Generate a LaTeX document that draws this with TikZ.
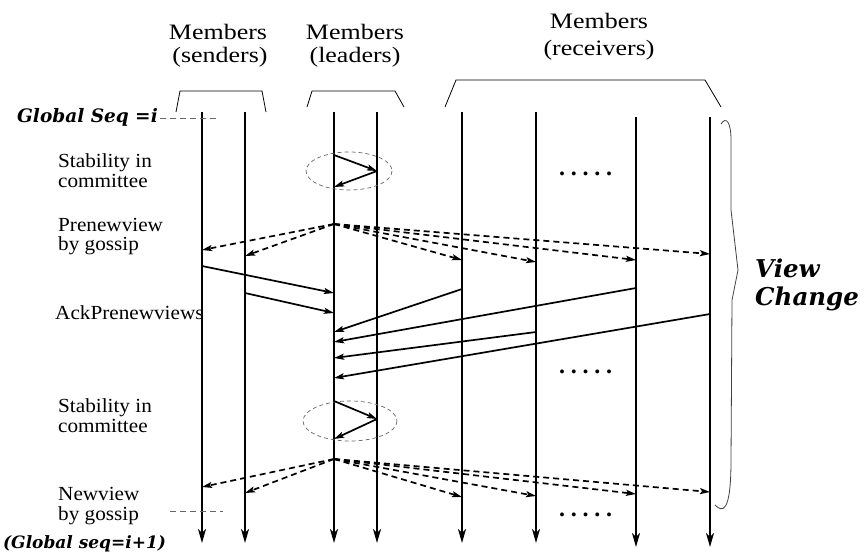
\documentclass[tikz,border=0pt]{standalone}
\usepackage{fontspec}
\usepackage{graphicx}
\setmainfont{Liberation Serif}
\newfontfamily\slab{DejaVu Serif}
\usetikzlibrary{arrows.meta}
\newcommand\hx[1]{\scalebox{1.18}[1]{#1}}
\newcommand\lx[1]{\scalebox{1.06}[1]{#1}}
\begin{document}
\begin{tikzpicture}[x=1pt,y=-1pt,
  life/.style={line width=1.7pt,-{Stealth[length=14pt,width=8pt,inset=4pt]}},
  msg/.style={line width=1.7pt,-{Stealth[length=10pt,width=6pt,inset=2pt]}},
  gmsg/.style={msg,dash pattern=on 6pt off 4pt},
  brk/.style={line width=0.8pt},
  seqline/.style={line width=0.7pt,dash pattern=on 6pt off 4pt,black!60},
  oval/.style={line width=0.7pt,dash pattern=on 4pt off 3pt,black!60},
  hdr/.style={font=\fontsize{22}{22}\selectfont,inner sep=0pt,anchor=base},
  lbl/.style={font=\fontsize{20}{20}\selectfont,anchor=base west,inner sep=0pt},
  bi/.style={font=\slab\bfseries\itshape\fontsize{18.5}{18.5}\selectfont,inner sep=0pt,anchor=base west},
  bis/.style={font=\slab\bfseries\itshape\fontsize{17}{17}\selectfont,inner sep=0pt,anchor=base west},
  big/.style={font=\slab\bfseries\itshape\fontsize{24.5}{24.5}\selectfont,inner sep=0pt,anchor=base west},
  dotrow/.style={font=\bfseries\fontsize{24}{24}\selectfont,inner sep=0pt,anchor=base west}
]
\useasboundingbox (0,0) rectangle (864,554);
\newcommand\dd{.\hskip5.7pt.\hskip5.7pt.\hskip5.7pt.\hskip5.7pt.}

% headers
\node[hdr] (hs1) at (218,39.5) {\hx{Members}};
\node[hdr] (hs2) at (220,62) {\hx{(senders)}};
\node[hdr] (hl1) at (355,39.5) {\hx{Members}};
\node[hdr] (hl2) at (355,62) {\hx{(leaders)}};
\node[hdr] (hr1) at (599,28) {\hx{Members}};
\node[hdr] (hr2) at (599,55) {\hx{(receivers)}};

% brackets
\draw[brk] (176,112) -- (180,91) -- (262,91) -- (266,112);
\draw[brk] (307,107) -- (312,91) -- (395,91) -- (404,107);
\draw[brk] (445,107) -- (456,80) -- (705,80) -- (721,107);

% lifelines
\foreach \n/\x/\t/\b in {s1/202/112/543,s2/245/112/543,l1/334/112/543,l2/377/112/543,
                          r1/462/112/543,r2/536/112/543,r3/636/117/547,r4/710/117/547}{
  \coordinate (\n top) at (\x,\t);
  \coordinate (\n bot) at (\x,\b);
  \draw[life] (\n top) -- (\n bot);
}

% left labels
\node[bi] (gs) at (17,122) {Global Seq =i};
\coordinate (gsa) at (160,118);
\coordinate (gsb) at (218,118);
\draw[seqline] (gsa) -- (gsb);
\node[lbl] (st1a) at (58,167) {\lx{Stability in}};
\node[lbl] (st1b) at (58,187) {\lx{committee}};
\node[lbl] (pn1) at (58,231) {\lx{Prenewview}};
\node[lbl] (pn2) at (58,250) {\lx{by gossip}};
\node[lbl] (ack) at (55,319) {\lx{AckPrenewviews}};
\node[lbl] (st2a) at (58,412) {\lx{Stability in}};
\node[lbl] (st2b) at (58,432) {\lx{committee}};
\node[lbl] (nv1) at (58,500) {\lx{Newview}};
\node[lbl] (nv2) at (58,520) {\lx{by gossip}};
\coordinate (ga) at (170,511);
\coordinate (gb) at (223,511);
\draw[seqline] (ga) -- (gb);
\node[bis] (gs2) at (3,548) {(Global seq=i+1)};

% dots
\node[dotrow] (d1) at (559,175) {\dd};
\node[dotrow] (d2) at (559,373.5) {\dd};
\node[dotrow] (d3) at (559,516) {\dd};

% stability 1
\draw[oval] (349,171) ellipse [x radius=43,y radius=19];
\coordinate (a1) at (334,155);
\coordinate (a2) at (377,171);
\coordinate (a3) at (334,187);
\draw[msg] (a1) -- (a2);
\draw[msg] (a2) -- (a3);

% prenewview gossip
\coordinate (pv) at (334,224);
\coordinate (pvs1) at (202,250);
\coordinate (pvs2) at (245,256);
\coordinate (pvr1) at (462,260);
\coordinate (pvr2) at (536,262);
\coordinate (pvr3) at (636,260);
\coordinate (pvr4) at (710,254);
\foreach \t in {pvs1,pvs2,pvr1,pvr2,pvr3,pvr4}{\draw[gmsg] (pv) -- (\t);}

% acks
\coordinate (k1a) at (202,266); \coordinate (k1b) at (334,293);
\coordinate (k2a) at (245,293); \coordinate (k2b) at (334,313);
\coordinate (k3a) at (462,289); \coordinate (k3b) at (334,332);
\coordinate (k4a) at (636,288); \coordinate (k4b) at (334,342);
\coordinate (k5a) at (536,332); \coordinate (k5b) at (334,358);
\coordinate (k6a) at (710,314); \coordinate (k6b) at (334,378);
\foreach \i in {1,...,6}{\draw[msg] (k\i a) -- (k\i b);}

% stability 2
\draw[oval] (350,421) ellipse [x radius=47,y radius=20];
\coordinate (b1) at (334,401);
\coordinate (b2) at (377,419);
\coordinate (b3) at (334,439);
\draw[msg] (b1) -- (b2);
\draw[msg] (b2) -- (b3);

% newview gossip
\coordinate (nv) at (334,459);
\coordinate (nvs1) at (202,487);
\coordinate (nvs2) at (245,493);
\coordinate (nvr1) at (462,497);
\coordinate (nvr2) at (536,496);
\coordinate (nvr3) at (636,494);
\coordinate (nvr4) at (710,492);
\foreach \t in {nvs1,nvs2,nvr1,nvr2,nvr3,nvr4}{\draw[gmsg] (nv) -- (\t);}

% brace
\coordinate (bra) at (721,124);
\coordinate (brb) at (715,505);
\draw[line width=0.8pt,black!75] (bra) .. controls (726,116) and (731,122) .. (731,140)
   -- (731,210) -- (738,270) -- (732,300) -- (731,460)
   .. controls (731,515) and (722,512) .. (brb);
\node[big] (vc1) at (755,277) {View};
\node[big] (vc2) at (755,305) {Change};
\end{tikzpicture}
\end{document}
